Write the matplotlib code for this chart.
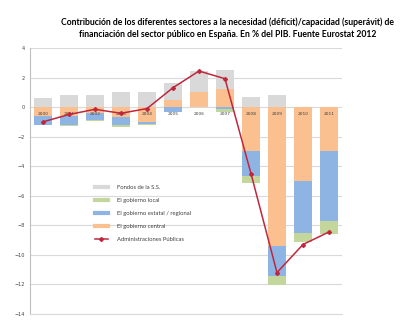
import numpy as np
import matplotlib.pyplot as plt

years = ["2000", "2001", "2002", "2003", "2004", "2005",
         "2006", "2007", "2008", "2009", "2010", "2011"]
central = [-0.63, -0.63, -0.4, -0.7, -1.04, 0.5, 1.05, 1.25, -2.96, -9.4, -5.0, -2.96]
regional = [-0.55, -0.6, -0.5, -0.52, -0.11, -0.35, 0.0, -0.15, -1.7, -2.05, -3.5, -4.75]
local = [0.0, -0.05, -0.07, -0.16, -0.05, 0.0, 0.0, -0.15, -0.5, -0.56, -0.65, -0.85]
ss = [0.6, 0.8, 0.8, 1.04, 1.04, 1.1, 1.4, 1.25, 0.7, 0.8, 0.0, 0.0]
total = [-1.0, -0.5, -0.15, -0.42, -0.1, 1.31, 2.44, 1.92, -4.5, -11.2, -9.3, -8.45]

series = [
    ("El gobierno central", central, "#FAC090"),
    ("El gobierno estatal / regional", regional, "#8EB4E3"),
    ("El gobierno local", local, "#C3D69B"),
    ("Fondos de la S.S.", ss, "#D9D9D9"),
]

fig = plt.figure(figsize=(4.14, 3.22), dpi=100)
ax = fig.add_axes([0.0725, 0.025, 0.7535, 0.826])

x = np.arange(len(years))
pos = np.zeros(len(years))
neg = np.zeros(len(years))
handles = []
for name, vals, col in series:
    v = np.array(vals)
    bottom = np.where(v >= 0, pos, neg)
    ax.bar(x, v, bottom=bottom, width=0.66, color=col, zorder=2)
    pos = pos + np.clip(v, 0, None)
    neg = neg + np.clip(v, None, 0)
    h, = ax.plot([], [], color=col, lw=3, label=name)
    handles.append(h)

line, = ax.plot(x, total, color="#C0273D", lw=1.1, marker="D", ms=2,
                zorder=4, label="Administraciones Públicas")

for i, y in enumerate(years):
    ax.text(i, -0.47, y, ha="center", va="center", fontsize=3.2,
            color="#404040", zorder=3)

ax.set_xlim(-0.5, 11.5)
ax.set_ylim(-14, 4)
ax.set_yticks(range(-14, 5, 2))
ax.set_xticks([])
ax.grid(axis="y", color="#D9D9D9", lw=0.8, zorder=0)
ax.tick_params(axis="y", length=0, labelsize=3.5, labelcolor="#404040", pad=4)
for s in ["top", "right"]:
    ax.spines[s].set_visible(False)
ax.spines["left"].set_color("#BFBFBF")
ax.spines["bottom"].set_color("#D9D9D9")

leg_handles = handles[::-1] + [line]
ax.legend(handles=leg_handles, loc="upper left", bbox_to_anchor=(0.19, 0.505),
          frameon=False, fontsize=3.8, handlelength=2.3, labelspacing=1.35,
          handletextpad=1.6, labelcolor="#404040", prop={"family": "Lato", "size": 4.2})

fig.text(0.55, 0.912, "Contribución de los diferentes sectores a la necesidad (déficit)/capacidad (superávit) de\n"
         "financiación del sector público en España. En % del PIB. Fuente Eurostat 2012",
         ha="center", va="center", fontsize=6.2, fontweight="bold", family="Lato",
         linespacing=1.45)

plt.savefig("out.png", dpi=100)
